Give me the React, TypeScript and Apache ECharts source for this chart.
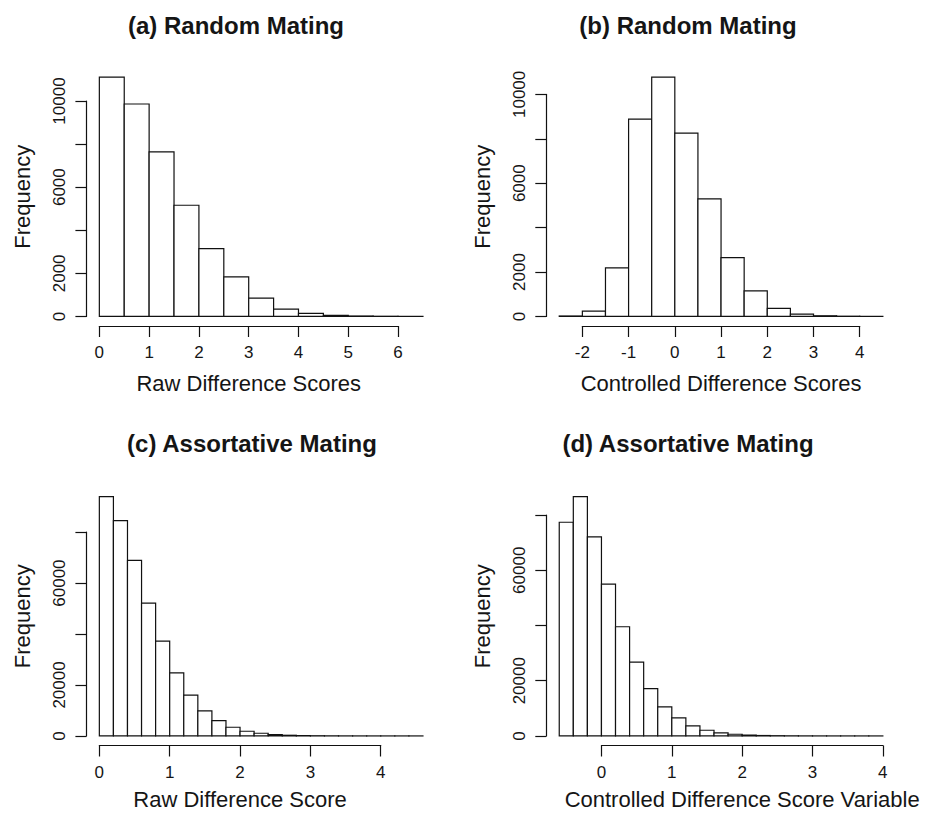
import React, { useEffect, useRef } from "react";
import * as echarts from "echarts";

// ---------- data ----------
const titles = ["(a) Random Mating", "(b) Random Mating", "(c) Assortative Mating", "(d) Assortative Mating"];
const xNames = ["Raw Difference Scores", "Controlled Difference Scores", "Raw Difference Score", "Controlled Difference Score Variable"];

// histogram breaks: first break and bin width
const breakStartA = 0;
const binWidthA = 0.5;
const countsA = [11110, 9860, 7635, 5160, 3150, 1840, 850, 340, 140, 50, 20, 8, 3];

const breakStartB = -2.5;
const binWidthB = 0.5;
const countsB = [20, 240, 2190, 8890, 10780, 8260, 5290, 2650, 1155, 360, 105, 30, 10, 3];

const breakStartC = 0;
const binWidthC = 0.2;
const countsC = [93950, 84500, 68900, 52150, 37200, 24750, 16000, 9830, 6030, 3410, 1840, 1050, 520, 260, 130, 70, 35, 18, 9, 5, 3, 2, 1];

const breakStartD = -0.6;
const binWidthD = 0.2;
const countsD = [77400, 86700, 72100, 55000, 39550, 26700, 17150, 10500, 6530, 3630, 2060, 1090, 600, 300, 150, 80, 40, 20, 10, 5, 3, 2, 1];

// axis ticks
const xTicksA = [0, 1, 2, 3, 4, 5, 6];
const xTicksB = [-2, -1, 0, 1, 2, 3, 4];
const xTicksC = [0, 1, 2, 3, 4];
const xTicksD = [0, 1, 2, 3, 4];

const yTicksA = [0, 2000, 4000, 6000, 8000, 10000];
const yTicksB = [0, 2000, 4000, 6000, 8000, 10000];
const yTicksC = [0, 20000, 40000, 60000, 80000];
const yTicksD = [0, 20000, 40000, 60000, 80000];

const yLabelsA = [0, 2000, 6000, 10000];
const yLabelsB = [0, 2000, 6000, 10000];
const yLabelsC = [0, 20000, 60000];
const yLabelsD = [0, 20000, 60000];

// ---------- layout / style ----------
const FONT = "'Liberation Sans', Arial, Helvetica, sans-serif";
const INK = "#111111";
const TEXT = "#151515";

const panelDefs = [
  { start: breakStartA, bw: binWidthA, counts: countsA, xTicks: xTicksA, yTicks: yTicksA, yLabels: yLabelsA, col: 0, row: 0, titleX: 236 },
  { start: breakStartB, bw: binWidthB, counts: countsB, xTicks: xTicksB, yTicks: yTicksB, yLabels: yLabelsB, col: 1, row: 0, titleX: 688 },
  { start: breakStartC, bw: binWidthC, counts: countsC, xTicks: xTicksC, yTicks: yTicksC, yLabels: yLabelsC, col: 0, row: 1, titleX: 252 },
  { start: breakStartD, bw: binWidthD, counts: countsD, xTicks: xTicksD, yTicks: yTicksD, yLabels: yLabelsD, col: 1, row: 1, titleX: 688 },
];

const colLeft = [86.4, 546.3];
const rowTop = [67.5, 487];
const titleY = [25, 443];
const xNameGap = [46, 43];
const PW = 349.5;
const PH = 258.5;

function usr(min: number, max: number) {
  const d = (max - min) * 0.04;
  return [min - d, max + d];
}

function buildOption() {
  const grid: any[] = [];
  const xAxis: any[] = [];
  const yAxis: any[] = [];
  const series: any[] = [];
  const graphic: any[] = [];

  panelDefs.forEach((p, i) => {
    const L = colLeft[p.col];
    const T = rowTop[p.row];
    const xmin = p.start;
    const xmax = p.start + p.counts.length * p.bw;
    const ymax = Math.max(...p.counts);
    const xr = usr(xmin, xmax);
    const yr = usr(0, ymax);
    const px = (x: number) => L + ((x - xr[0]) / (xr[1] - xr[0])) * PW;
    const py = (y: number) => T + PH - ((y - yr[0]) / (yr[1] - yr[0])) * PH;

    // data grid (plot region)
    const g0 = grid.length;
    grid.push({ left: L, top: T, width: PW, height: PH, outerBoundsMode: "none", containLabel: false });
    xAxis.push({ gridIndex: g0, type: "value", min: xr[0], max: xr[1], show: false });
    yAxis.push({
      gridIndex: g0,
      type: "value",
      min: yr[0],
      max: yr[1],
      show: true,
      axisLine: { show: false },
      axisTick: { show: false },
      axisLabel: { show: false },
      splitLine: { show: false },
      name: "Frequency",
      nameLocation: "middle",
      nameRotate: 90,
      nameGap: 53,
      nameTextStyle: { fontFamily: FONT, fontSize: 22, color: TEXT },
    });
    const bins = p.counts.map((c, k) => [p.start + k * p.bw, p.start + (k + 1) * p.bw, c]);
    series.push({
      type: "custom",
      xAxisIndex: g0,
      yAxisIndex: g0,
      silent: true,
      clip: false,
      data: bins,
      encode: { x: [0, 1], y: 2 },
      renderItem: (params: any, api: any) => {
        const a = api.coord([api.value(0), 0]);
        const b = api.coord([api.value(1), api.value(2)]);
        return {
          type: "rect",
          shape: { x: a[0], y: b[1], width: b[0] - a[0], height: a[1] - b[1] },
          style: { fill: "#ffffff", stroke: INK, lineWidth: 1.2 },
        };
      },
    });

    // x axis grid (spans first to last tick)
    const xt0 = p.xTicks[0];
    const xt1 = p.xTicks[p.xTicks.length - 1];
    const gx = grid.length;
    grid.push({ left: px(xt0), top: T + PH - 10, width: px(xt1) - px(xt0), height: 10, outerBoundsMode: "none", containLabel: false });
    xAxis.push({
      gridIndex: gx,
      type: "value",
      position: "bottom",
      min: xt0,
      max: xt1,
      interval: p.xTicks[1] - p.xTicks[0],
      axisLine: { show: true, onZero: false, lineStyle: { color: INK, width: 1.2 } },
      axisTick: { show: true, length: 11, lineStyle: { color: INK, width: 1.2 } },
      axisLabel: { show: true, fontFamily: FONT, fontSize: 17, color: TEXT, margin: 18 },
      splitLine: { show: false },
      name: xNames[i],
      nameLocation: "middle",
      nameGap: xNameGap[p.row],
      nameTextStyle: { fontFamily: FONT, fontSize: 22, color: TEXT },
    });
    yAxis.push({ gridIndex: gx, type: "value", min: 0, max: 1, show: false });

    // y axis grid (spans 0 to last tick)
    const yt1 = p.yTicks[p.yTicks.length - 1];
    const gy = grid.length;
    const yTopPx = py(yt1);
    const yBotPx = py(0);
    grid.push({ left: L, top: yTopPx, width: 10, height: yBotPx - yTopPx, outerBoundsMode: "none", containLabel: false });
    xAxis.push({ gridIndex: gy, type: "value", min: 0, max: 1, show: false });
    const labelled = p.yLabels;
    yAxis.push({
      gridIndex: gy,
      type: "value",
      position: "left",
      min: 0,
      max: yt1,
      interval: p.yTicks[1] - p.yTicks[0],
      axisLine: { show: true, onZero: false, lineStyle: { color: INK, width: 1.2 } },
      axisTick: { show: true, length: 11, lineStyle: { color: INK, width: 1.2 } },
      axisLabel: {
        show: true,
        rotate: 90,
        fontFamily: FONT,
        fontSize: 17,
        color: TEXT,
        margin: 18,
        formatter: (v: number) => (labelled.indexOf(v) >= 0 ? String(v) : ""),
      },
      splitLine: { show: false },
    });

    // main title
    graphic.push({
      type: "text",
      x: p.titleX,
      y: titleY[p.row],
      silent: true,
      style: {
        text: titles[i],
        fontFamily: FONT,
        fontSize: 24,
        fontWeight: "bold",
        fill: TEXT,
        textAlign: "center",
        textVerticalAlign: "middle",
      },
    });
  });

  return {
    animation: false,
    backgroundColor: "#ffffff",
    grid,
    xAxis,
    yAxis,
    series,
    graphic,
  };
}

export default function App() {
  const ref = useRef<HTMLDivElement>(null);
  useEffect(() => {
    if (!ref.current) return;
    const chart = echarts.init(ref.current, null, { renderer: "svg" });
    chart.setOption(buildOption() as any);
    return () => chart.dispose();
  }, []);
  return (
    <div
      ref={ref}
      style={{ position: "fixed", left: 0, top: 0, width: 930, height: 813, background: "#fff" }}
    />
  );
}
